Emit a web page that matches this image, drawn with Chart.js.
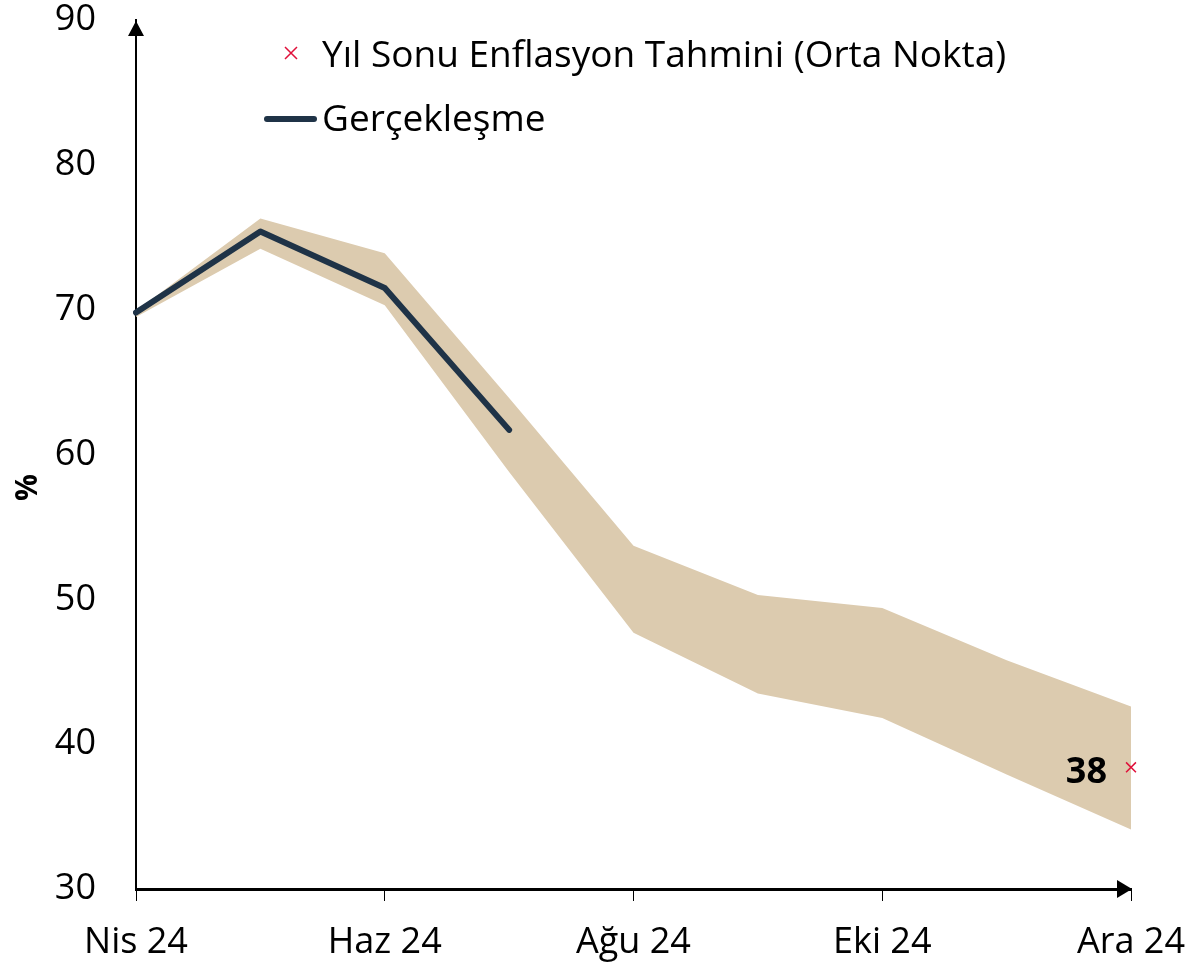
<!DOCTYPE html>
<html>
<head>
<meta charset="utf-8">
<script src="https://cdn.jsdelivr.net/npm/chart.js@4/dist/chart.umd.min.js"></script>
<style>
  html, body { margin: 0; padding: 0; background: #fff; }
  #wrap { width: 1190px; height: 967px; position: relative; }
</style>
</head>
<body>
<div id="wrap"><canvas id="inflationChart"></canvas></div>
<script>
const months = ["Nis 24", "May 24", "Haz 24", "Tem 24", "Ağu 24", "Eyl 24", "Eki 24", "Kas 24", "Ara 24"];
const bandUpper = [69.9, 76.3, 73.9, 63.9, 53.7, 50.3, 49.4, 45.8, 42.6];
const bandLower = [69.5, 74.2, 70.3, 58.8, 47.7, 43.5, 41.8, 37.9, 34.1];
const actual = [69.8, 75.4, 71.5, 61.7, null, null, null, null, null];
const midpoint = [null, null, null, null, null, null, null, null, 38.4];
const midpointLabel = "38";
const yTicks = [30, 40, 50, 60, 70, 80, 90];
const yTitle = "%";

const FONT = "'Open Sans', 'Noto Sans', sans-serif";
const BAND_COLOR = "#dccbaf";
const LINE_COLOR = "#1f3347";
const CROSS_COLOR = "#e0103a";

function noPadding(axis) {
    axis.paddingTop = 0;
    axis.paddingBottom = 0;
    axis.paddingLeft = 0;
    axis.paddingRight = 0;
}

const decorPlugin = {
    id: "decor",
    afterDraw(chart) {
        const ctx = chart.ctx;
        const area = chart.chartArea;
        const x = chart.scales.x;
        const y = chart.scales.y;
        const x0 = x.left;
        const yBottom = y.bottom;

        ctx.save();
        ctx.fillStyle = "#000";

        // arrow on y axis
        ctx.beginPath();
        ctx.moveTo(x0, y.top + 1);
        ctx.lineTo(x0 - 8, y.top + 16);
        ctx.lineTo(x0 + 8, y.top + 16);
        ctx.closePath();
        ctx.fill();

        // arrow on x axis
        ctx.beginPath();
        ctx.moveTo(x.right + 1, yBottom);
        ctx.lineTo(x.right - 14, yBottom - 9);
        ctx.lineTo(x.right - 14, yBottom + 9);
        ctx.closePath();
        ctx.fill();

        // y axis title, sits a bit below the middle
        ctx.save();
        ctx.translate(28, (y.top + y.bottom) / 2 + 33);
        ctx.rotate(-Math.PI / 2);
        ctx.font = "bold 30px " + FONT;
        ctx.textAlign = "center";
        ctx.textBaseline = "middle";
        ctx.fillText(yTitle, 0, 0);
        ctx.restore();

        // label next to the midpoint marker
        const meta = chart.getDatasetMeta(3);
        const last = meta.data[midpoint.length - 1];
        ctx.font = "bold 36px " + FONT;
        ctx.textAlign = "right";
        ctx.textBaseline = "middle";
        ctx.fillStyle = "#000";
        ctx.fillText(midpointLabel, last.x - 24, last.y + 5);

        // legend
        const lx = area.left;
        ctx.font = "37px " + FONT;
        ctx.textAlign = "left";
        ctx.fillStyle = "#000";

        ctx.strokeStyle = CROSS_COLOR;
        ctx.lineWidth = 1.5;
        ctx.beginPath();
        ctx.moveTo(lx + 149, 47);
        ctx.lineTo(lx + 161, 59);
        ctx.moveTo(lx + 161, 47);
        ctx.lineTo(lx + 149, 59);
        ctx.stroke();
        ctx.fillText(chart.data.datasets[3].label, lx + 186, 56);

        ctx.strokeStyle = LINE_COLOR;
        ctx.lineWidth = 6;
        ctx.lineCap = "round";
        ctx.beginPath();
        ctx.moveTo(lx + 131, 119);
        ctx.lineTo(lx + 178, 119);
        ctx.stroke();
        ctx.fillText(chart.data.datasets[2].label, lx + 186, 120);

        ctx.restore();
    }
};

new Chart(document.getElementById("inflationChart"), {
    type: "line",
    data: {
        labels: months,
        datasets: [
            {
                label: "Üst",
                data: bandUpper,
                borderWidth: 0,
                pointRadius: 0,
                backgroundColor: BAND_COLOR,
                fill: "+1",
                tension: 0,
                order: 3
            },
            {
                label: "Alt",
                data: bandLower,
                borderWidth: 0,
                pointRadius: 0,
                backgroundColor: BAND_COLOR,
                fill: false,
                tension: 0,
                order: 4
            },
            {
                label: "Gerçekleşme",
                data: actual,
                borderColor: LINE_COLOR,
                borderWidth: 6,
                borderCapStyle: "round",
                borderJoinStyle: "round",
                pointRadius: 0,
                fill: false,
                spanGaps: false,
                tension: 0,
                order: 1
            },
            {
                label: "Yıl Sonu Enflasyon Tahmini (Orta Nokta)",
                data: midpoint,
                showLine: false,
                pointStyle: "crossRot",
                pointRadius: 7,
                borderColor: CROSS_COLOR,
                borderWidth: 1.5,
                backgroundColor: CROSS_COLOR,
                clip: false,
                order: 0
            }
        ]
    },
    options: {
        responsive: true,
        maintainAspectRatio: false,
        animation: false,
        layout: {
            autoPadding: false,
            padding: { top: 20, right: 59, left: 10, bottom: 0 }
        },
        plugins: {
            legend: { display: false },
            tooltip: { enabled: false }
        },
        scales: {
            x: {
                offset: false,
                afterFit: axis => { axis.height = 78; noPadding(axis); },
                grid: {
                    drawOnChartArea: false,
                    tickLength: 12,
                    color: c => (c.index % 2 === 0 ? "#000" : "rgba(0,0,0,0)"),
                    lineWidth: 1
                },
                border: { display: true, color: "#000", width: 3 },
                ticks: {
                    autoSkip: false,
                    maxRotation: 0,
                    padding: 20,
                    color: "#000",
                    font: { family: FONT, size: 36 },
                    callback: function (v, i) {
                        return i % 2 === 0 ? this.getLabelForValue(v) : "";
                    }
                }
            },
            y: {
                min: 30,
                max: 90,
                afterBuildTicks: axis => {
                    axis.ticks = yTicks.map(v => ({ value: v }));
                },
                afterFit: axis => { axis.width = 126; noPadding(axis); },
                grid: { display: false, tickLength: 0 },
                border: { display: true, color: "#000", width: 2 },
                ticks: {
                    padding: 40,
                    color: "#000",
                    font: { family: FONT, size: 36 }
                }
            }
        }
    },
    plugins: [decorPlugin]
});
</script>
</body>
</html>
